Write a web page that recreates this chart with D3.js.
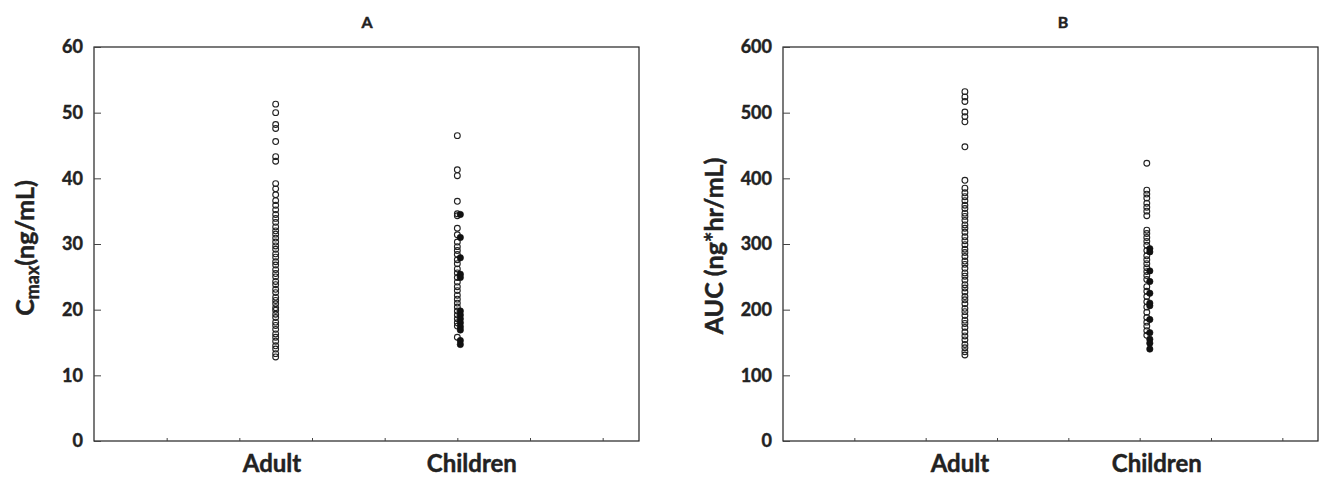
<!DOCTYPE html>
<html>
<head>
<meta charset="utf-8">
<script src="https://cdn.jsdelivr.net/npm/d3@7"></script>
<style>
  html, body { margin: 0; padding: 0; background: #fff; }
  svg { display: block; font-family: Lato, "Open Sans", sans-serif; }
  .lbl { font-weight: 700; fill: #222; stroke: #222; stroke-width: 0.45; }
</style>
</head>
<body>
<svg id="chart" width="1332" height="477"></svg>
<script>
// Group labels along the x axis
const categories = ["Adult", "Children"];

// Panel A: Cmax (ng/mL)
const adultCmax = [51.3, 50.0, 48.2, 47.6, 45.6, 43.3, 42.6, 39.2, 38.4, 37.5, 36.6, 35.9, 35.2, 34.5,
  33.9, 33.3, 32.6, 32.0, 31.5, 30.9, 30.3, 29.7, 29.2, 28.5, 28.0, 27.3, 26.8, 26.1, 25.5, 25.0,
  24.3, 23.8, 23.1, 22.6, 21.9, 21.4, 20.9, 20.3, 19.9, 19.3, 18.8, 18.1, 17.6, 17.0, 16.3, 15.8,
  15.2, 14.5, 14.0, 13.3, 12.8];
const childCmaxOpen = [46.5, 41.3, 40.4, 36.5, 34.6, 34.3, 32.4, 31.4, 30.3, 29.6, 29.0, 28.4, 27.6,
  27.0, 26.2, 25.6, 24.9, 24.2, 23.5, 22.9, 22.2, 21.6, 21.0, 20.4, 19.8, 19.2, 18.6, 18.0, 17.5, 15.8];
const childCmaxFilled = [34.5, 31.0, 27.9, 25.4, 24.9, 19.8, 19.2, 18.6, 18.0, 17.4, 16.9, 15.3, 14.7];

// Panel B: AUC (ng*hr/mL)
const adultAUC = [532, 524, 517, 501, 494, 486, 448, 397, 385, 378, 372, 366, 359, 354, 347, 342, 336,
  329, 324, 318, 311, 305, 299, 292, 287, 281, 274, 269, 263, 256, 251, 245, 238, 233, 227, 220, 215,
  209, 202, 197, 191, 184, 179, 173, 166, 160, 154, 147, 142, 136, 131];
const childAUCOpen = [423, 382, 376, 370, 362, 356, 350, 343, 321, 316, 310, 304, 298, 290, 282, 276,
  270, 264, 258, 252, 246, 235, 228, 220, 212, 204, 196, 188, 181, 175, 168, 161];
const childAUCFilled = [293, 288, 259, 243, 225, 210, 206, 185, 165, 155, 149, 140];

const yTicksA = [0, 10, 20, 30, 40, 50, 60];
const yTicksB = [0, 100, 200, 300, 400, 500, 600];
const xTicks = [1, 2, 3, 4, 5, 6, 7];

const svg = d3.select("#chart");

function panel(opt) {
  const x = d3.scaleLinear().domain([0, 7.5]).range([opt.left, opt.right]);
  const y = d3.scaleLinear().domain([0, opt.ymax]).range([opt.bottom, opt.top]);
  const g = svg.append("g");

  // frame
  g.append("rect")
    .attr("x", opt.left).attr("y", opt.top)
    .attr("width", opt.right - opt.left).attr("height", opt.bottom - opt.top)
    .attr("fill", "none").attr("stroke", "#222").attr("stroke-width", 1.2);

  // y axis: inward ticks, labels on the left
  const yAxis = d3.axisRight(y).tickValues(opt.yTicks).tickSize(7).tickFormat("");
  g.append("g").attr("transform", `translate(${opt.left},0)`).call(yAxis)
    .call(s => s.select(".domain").remove())
    .call(s => s.selectAll("line").attr("stroke", "#444"));
  g.selectAll(".ylab").data(opt.yTicks).join("text")
    .attr("class", "lbl")
    .attr("x", opt.left - 11).attr("y", d => y(d))
    .attr("dy", "0.36em").attr("text-anchor", "end")
    .attr("font-size", 18)
    .text(d => d);

  // x axis: short inward ticks
  const xAxis = d3.axisTop(x).tickValues(xTicks).tickSize(3).tickFormat("");
  g.append("g").attr("transform", `translate(0,${opt.bottom})`).call(xAxis)
    .call(s => s.select(".domain").remove())
    .call(s => s.selectAll("line").attr("stroke", "#444"));
  g.selectAll(".xlab").data(categories).join("text")
    .attr("class", "lbl")
    .attr("x", (d, i) => x(opt.labelPos[i])).attr("y", opt.bottom + 31)
    .attr("text-anchor", "middle")
    .attr("font-size", 24)
    .text(d => d);

  // panel title
  g.append("text").attr("class", "lbl").attr("x", opt.titleX).attr("y", 28)
    .attr("text-anchor", "middle").attr("font-size", 16).text(opt.title);

  // axis title
  const t = g.append("text").attr("class", "lbl")
    .attr("transform", `translate(${opt.ylabelX},${opt.ylabelY}) rotate(-90)`)
    .attr("text-anchor", "middle").attr("font-size", 25);
  opt.ylabel(t);

  // points
  g.selectAll(".adult").data(opt.adult).join("circle")
    .attr("cx", x(opt.groupPos[0])).attr("cy", d => y(d)).attr("r", 2.9)
    .attr("fill", "none").attr("stroke", "#222").attr("stroke-width", 1.1);
  g.selectAll(".childOpen").data(opt.childOpen).join("circle")
    .attr("cx", x(opt.groupPos[1])).attr("cy", d => y(d)).attr("r", 2.9)
    .attr("fill", "none").attr("stroke", "#222").attr("stroke-width", 1.1);
  g.selectAll(".childFilled").data(opt.childFilled).join("circle")
    .attr("cx", x(opt.groupPos[1]) + 3).attr("cy", d => y(d)).attr("r", 3.2)
    .attr("fill", "#111").attr("stroke", "#111").attr("stroke-width", 0.6);
}

panel({
  left: 94, right: 639, top: 47, bottom: 441, ymax: 60, yTicks: yTicksA,
  adult: adultCmax, childOpen: childCmaxOpen, childFilled: childCmaxFilled,
  groupPos: [2.5, 5.0], labelPos: [2.45, 5.2],
  title: "A", titleX: 367, ylabelX: 34, ylabelY: 248,
  ylabel: t => {
    t.append("tspan").text("C");
    t.append("tspan").attr("font-size", 18).attr("dy", 5).text("max");
    t.append("tspan").attr("dy", -5).text("(ng/mL)");
  }
});

panel({
  left: 783, right: 1318, top: 47, bottom: 441, ymax: 600, yTicks: yTicksB,
  adult: adultAUC, childOpen: childAUCOpen, childFilled: childAUCFilled,
  groupPos: [2.55, 5.1], labelPos: [2.48, 5.24],
  title: "B", titleX: 1063, ylabelX: 723, ylabelY: 246,
  ylabel: t => t.text("AUC (ng*hr/mL)")
});
</script>
</body>
</html>
